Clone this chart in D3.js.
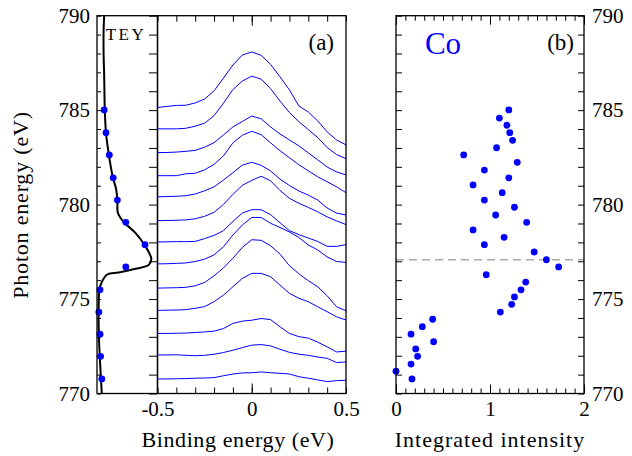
<!DOCTYPE html>
<html>
<head>
<meta charset="utf-8">
<script src="https://cdn.jsdelivr.net/npm/d3@7.9.0/dist/d3.min.js"></script>
<style>
  body { margin: 0; background: #fff; }
</style>
</head>
<body>
<svg id="chart" width="632" height="456"></svg>
<script>
// binding energy grid of the spectra (eV)
const bindingEnergy = [-0.5, -0.45, -0.4, -0.35, -0.3, -0.25, -0.2, -0.15, -0.1, -0.05, 0,
  0.05, 0.1, 0.15, 0.2, 0.25, 0.3, 0.35, 0.4, 0.45, 0.5];

// photon energies of the plotted spectra (top to bottom)
const spectraEnergy = [785.01, 783.81, 782.63, 781.42, 780.24, 779.06, 777.88, 776.70, 775.49, 774.31, 773.14, 771.97, 770.77];

// spectra intensity, offset to its own photon energy (y-axis units)
const spectra = [
  [0.13, 0.19, 0.24, 0.25, 0.37, 0.58, 1.01, 1.69, 2.38, 2.91, 3.07, 2.89, 2.41, 1.75, 1.06, 0.21, -0.11, -0.58, -1.16, -1.59, -1.85],
  [0.20, 0.20, 0.20, 0.23, 0.34, 0.50, 0.90, 1.56, 2.28, 2.73, 2.99, 2.83, 2.33, 1.67, 1.06, 0.58, 0.16, -0.26, -0.79, -1.16, -1.38],
  [0.12, 0.13, 0.15, 0.19, 0.24, 0.41, 0.65, 1.06, 1.48, 1.77, 2.06, 1.91, 1.48, 1.11, 0.79, 0.48, 0.11, -0.26, -0.64, -0.90, -1.06],
  [0.11, 0.11, 0.11, 0.21, 0.24, 0.42, 0.71, 1.16, 1.85, 2.25, 2.46, 2.28, 1.85, 1.43, 1.06, 0.69, 0.37, 0.05, -0.21, -0.48, -0.79],
  [0.17, 0.19, 0.20, 0.23, 0.32, 0.49, 0.70, 1.06, 1.45, 1.85, 2.00, 1.84, 1.54, 1.11, 0.77, 0.48, 0.26, 0.00, -0.42, -0.69, -0.79],
  [0.09, 0.10, 0.11, 0.13, 0.19, 0.32, 0.53, 0.95, 1.48, 1.96, 2.22, 2.44, 2.20, 1.69, 1.27, 1.01, 0.79, 0.56, 0.29, 0.08, -0.12],
  [0.14, 0.15, 0.16, 0.16, 0.17, 0.32, 0.49, 0.74, 1.23, 1.67, 1.85, 1.85, 1.59, 1.16, 0.74, 0.53, 0.35, 0.17, -0.09, -0.09, 0.00],
  [0.16, 0.17, 0.19, 0.21, 0.29, 0.41, 0.64, 1.07, 1.69, 2.22, 2.62, 2.62, 2.31, 2.09, 1.85, 1.56, 1.16, 0.90, 0.53, 0.29, 0.24],
  [0.09, 0.10, 0.11, 0.13, 0.21, 0.39, 0.74, 1.16, 1.67, 2.24, 2.65, 2.62, 2.33, 1.89, 1.27, 0.85, 0.48, 0.16, -0.32, -0.90, -1.11],
  [0.09, 0.10, 0.11, 0.13, 0.20, 0.29, 0.55, 0.90, 1.34, 1.78, 2.05, 2.05, 1.87, 1.43, 0.99, 0.73, 0.55, 0.28, 0.02, -0.25, -0.42],
  [0.04, 0.04, 0.05, 0.06, 0.09, 0.12, 0.16, 0.30, 0.57, 0.69, 0.74, 0.83, 0.77, 0.39, 0.04, -0.13, -0.21, -0.42, -0.67, -0.94, -0.90],
  [0.07, 0.07, 0.08, 0.05, 0.03, 0.05, 0.11, 0.20, 0.32, 0.46, 0.59, 0.62, 0.55, 0.37, 0.21, 0.11, 0.05, -0.04, -0.11, -0.33, -0.30],
  [0.00, 0.00, 0.01, 0.02, 0.04, 0.05, 0.07, 0.17, 0.26, 0.32, 0.33, 0.37, 0.33, 0.30, 0.26, 0.12, 0.04, -0.05, -0.14, -0.09, -0.07]
];

// TEY absorption curve (photon energy, normalised yield)
const teyEnergy = [790.0, 789.2, 788.0, 786.8, 785.0, 783.8, 782.7, 781.5, 780.8, 780.2, 779.6, 779.3, 779.0,
  778.5, 777.8, 777.3, 777.1, 776.8, 776.6, 776.4, 776.3, 775.9, 775.5, 775.0, 773.2, 771.4, 770.0];
const teyYield = [0.12, 0.11, 0.11, 0.12, 0.13, 0.15, 0.195, 0.26, 0.32, 0.34, 0.345, 0.39, 0.47,
  0.64, 0.805, 0.89, 0.905, 0.86, 0.64, 0.36, 0.17, 0.08, 0.04, 0.03, 0.03, 0.055, 0.08];
// TEY at the energies of the spectra
const teyDots = [0.12, 0.15, 0.205, 0.27, 0.34, 0.48, 0.80, 0.48, 0.05, 0.03, 0.05, 0.06, 0.08];

// integrated intensity panel
const intEnergy = [785.01, 784.58, 784.20, 783.81, 783.40, 783.01, 782.63, 782.24, 781.83, 781.42, 781.04, 780.63,
  780.24, 779.86, 779.45, 779.06, 778.66, 778.27, 777.88, 777.49, 777.08, 776.70, 776.29, 775.90, 775.49,
  775.11, 774.72, 774.31, 773.93, 773.54, 773.14, 772.74, 772.36, 771.97, 771.56, 771.18, 770.77];
const intValue = [1.20, 1.10, 1.18, 1.21, 1.24, 1.07, 0.72, 1.29, 0.94, 1.20, 0.82, 1.13,
  0.94, 1.26, 1.06, 1.39, 0.82, 1.15, 0.94, 1.47, 1.60, 1.73, 0.96, 1.38, 1.33,
  1.26, 1.23, 1.11, 0.39, 0.28, 0.16, 0.40, 0.21, 0.23, 0.16, 0.00, 0.17];
const edgeEnergy = 777.08;

const yTicks = [770, 775, 780, 785, 790];
const beTicks = [-0.5, 0, 0.5];
const intTicks = [0, 1, 2];

const svg = d3.select('#chart');
const blue = '#0000ff';
const serif = '"Liberation Serif", "DejaVu Serif", "Noto Serif", "Times New Roman", serif';

const plotTop = 15.7, plotBottom = 393.5;
let y = d3.scaleLinear().domain([770, 790]).range([plotBottom, plotTop]);
let xTey = d3.scaleLinear().domain([0, 1]).range([97, 157]);
let xBe = d3.scaleLinear().domain([-0.5, 0.5]).range([157.5, 346]);
let xInt = d3.scaleLinear().domain([0, 2]).range([396, 584]);

const minorY = d3.range(770, 791, 1);

function frame(x0, x1) {
  svg.append('rect')
    .attr('x', x0).attr('y', plotTop)
    .attr('width', x1 - x0).attr('height', plotBottom - plotTop)
    .attr('fill', 'none').attr('stroke', '#000').attr('stroke-width', 1.3);
}

function tickRow(scale, values, ypos, size, dir) {
  let axis = dir === 'top' ? d3.axisTop(scale) : d3.axisBottom(scale);
  svg.append('g').attr('transform', `translate(0,${ypos})`)
    .call(axis.tickValues(values).tickSize(size).tickFormat(''))
    .call(g => g.select('.domain').remove());
}

function tickCol(values, xpos, size, dir) {
  let axis = dir === 'right' ? d3.axisRight(y) : d3.axisLeft(y);
  svg.append('g').attr('transform', `translate(${xpos},0)`)
    .call(axis.tickValues(values).tickSize(size).tickFormat(''))
    .call(g => g.select('.domain').remove());
}

function labelFont(g) {
  g.select('.domain').remove();
  g.selectAll('text').style('font-family', serif).style('font-size', '21px').style('fill', '#000');
}

function addText(x, yy, str, size, anchor) {
  return svg.append('text')
    .attr('x', x).attr('y', yy)
    .attr('text-anchor', anchor || 'middle')
    .style('font-family', serif)
    .style('font-size', size + 'px')
    .style('fill', '#000')
    .text(str);
}

// ---------- TEY panel ----------
tickCol(minorY, 97, 4, 'right');
tickCol(minorY, 157, 8, 'left');

let teyLine = d3.line()
  .x((d, i) => xTey(teyYield[i]))
  .y(d => y(d))
  .curve(d3.curveCatmullRom);
svg.append('path')
  .attr('d', teyLine(teyEnergy))
  .attr('fill', 'none').attr('stroke', '#000').attr('stroke-width', 2);

svg.selectAll('circle.tey')
  .data(spectraEnergy)
  .enter().append('circle')
  .attr('class', 'tey')
  .attr('cx', (d, i) => xTey(teyDots[i]))
  .attr('cy', d => y(d))
  .attr('r', 3.4)
  .attr('fill', blue);

addText(126, 40, 'TEY', 17).style('letter-spacing', '2.5px');

svg.append('g').attr('transform', 'translate(97,0)')
  .call(d3.axisLeft(y).tickValues(yTicks).tickSize(0).tickPadding(7).tickFormat(d3.format('d')))
  .call(labelFont);

frame(97, 157.5);

// ---------- spectra panel ----------
const beMinor = d3.range(-5, 6).map(d => d / 10);
tickRow(xBe, beMinor, plotBottom, 6, 'top');
tickRow(xBe, beMinor, plotTop, 6, 'bottom');
tickRow(xBe, [0], plotBottom, 10, 'top');
tickRow(xBe, [0], plotTop, 10, 'bottom');

svg.append('g').attr('transform', `translate(0,${plotBottom})`)
  .call(d3.axisBottom(xBe).tickValues(beTicks).tickSize(0).tickPadding(8)
    .tickFormat(d => d === 0 ? '0' : String(d)))
  .call(labelFont);

let specLine = d3.line()
  .x((d, i) => xBe(bindingEnergy[i]));

svg.append('g').selectAll('path')
  .data(spectra)
  .enter().append('path')
  .attr('d', (s, k) => specLine.y(v => y(spectraEnergy[k] + v))(s))
  .attr('fill', 'none')
  .attr('stroke', blue)
  .attr('stroke-width', 1);

addText(334, 50, '(a)', 23, 'end');

frame(157.5, 346);

addText(238, 447, 'Binding energy (eV)', 22).style('letter-spacing', '0.6px');

// ---------- integrated intensity panel ----------
const intMinor = d3.range(0, 21).map(d => d / 10);
tickRow(xInt, intMinor, plotBottom, 5, 'top');
tickRow(xInt, intMinor, plotTop, 5, 'bottom');
tickRow(xInt, intTicks, plotBottom, 9, 'top');
tickRow(xInt, intTicks, plotTop, 9, 'bottom');
tickCol(minorY, 396, 6, 'right');
tickCol(minorY, 584, 6, 'left');

svg.append('g').attr('transform', `translate(0,${plotBottom})`)
  .call(d3.axisBottom(xInt).tickValues(intTicks).tickSize(0).tickPadding(8).tickFormat(d3.format('d')))
  .call(labelFont);
svg.append('g').attr('transform', 'translate(584,0)')
  .call(d3.axisRight(y).tickValues(yTicks).tickSize(0).tickPadding(8).tickFormat(d3.format('d')))
  .call(labelFont);

svg.append('line')
  .attr('x1', xInt(0)).attr('x2', xInt(2))
  .attr('y1', y(edgeEnergy)).attr('y2', y(edgeEnergy))
  .attr('stroke', '#aaaaaa').attr('stroke-width', 1.5)
  .attr('stroke-dasharray', '8,5');

svg.selectAll('circle.int')
  .data(intEnergy)
  .enter().append('circle')
  .attr('class', 'int')
  .attr('cx', (d, i) => xInt(intValue[i]))
  .attr('cy', d => y(d))
  .attr('r', 3.4)
  .attr('fill', blue);

addText(443, 54, 'Co', 31).style('fill', blue);
addText(574, 50, '(b)', 23, 'end');

frame(396, 584);

addText(490, 447, 'Integrated intensity', 22).style('letter-spacing', '1px');

svg.append('text')
  .attr('transform', 'translate(28,205) rotate(-90)')
  .attr('text-anchor', 'middle')
  .style('font-family', serif)
  .style('font-size', '22px')
  .style('letter-spacing', '0.8px')
  .text('Photon energy (eV)');
</script>
</body>
</html>
